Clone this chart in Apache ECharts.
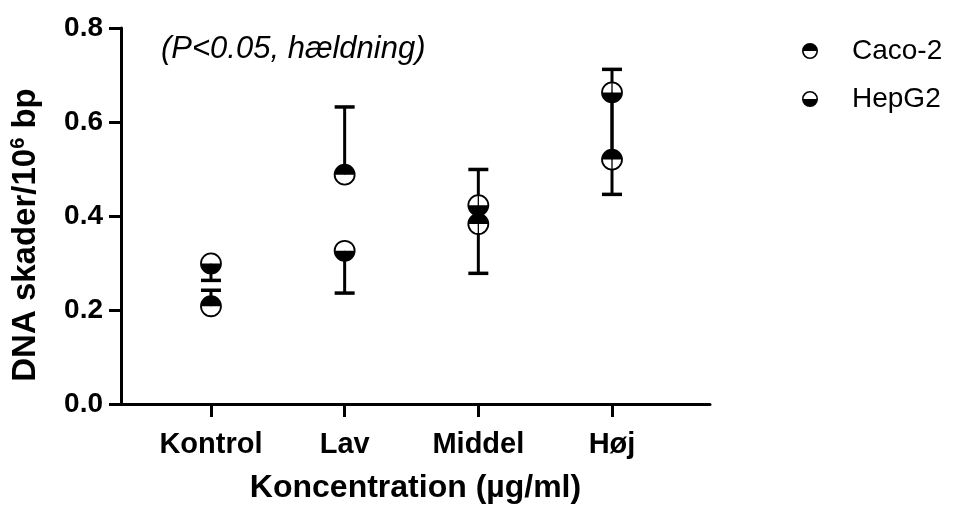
<!DOCTYPE html>
<html>
<head>
<meta charset="utf-8">
<script src="https://cdn.jsdelivr.net/npm/echarts@6/dist/echarts.min.js"></script>
<style>
html,body{margin:0;padding:0;background:#fff;}
#chart{width:956px;height:509px;}
</style>
</head>
<body>
<div id="chart"></div>
<script>
const categories = ['Kontrol', 'Lav', 'Middel', 'Høj'];
const cacoMean = [0.208, 0.488, 0.383, 0.520];
const cacoUpper = [0.242, 0.632, 0.499, 0.712];
const hepMean = [0.299, 0.326, 0.423, 0.663];
const hepLower = [0.263, 0.236, 0.278, 0.446];
const yTickLabels = ['0.0', '0.2', '0.4', '0.6', '0.8'];

const FONT = '"Liberation Sans", Arial, Helvetica, sans-serif';
const cacoData = categories.map((c, i) => [i, cacoMean[i], cacoUpper[i]]);
const hepData = categories.map((c, i) => [i, hepMean[i], hepLower[i]]);

function errRender(width, withCap) {
  return function (params, api) {
    const p = api.coord([api.value(0), api.value(1)]);
    const e = api.coord([api.value(0), api.value(2)]);
    const children = [{
      type: 'line',
      shape: { x1: p[0], y1: p[1], x2: e[0], y2: e[1] },
      style: { stroke: '#000', lineWidth: width }
    }];
    if (withCap) {
      children.push({
        type: 'line',
        shape: { x1: e[0] - 10, y1: e[1], x2: e[0] + 10, y2: e[1] },
        style: { stroke: '#000', lineWidth: 3.5 }
      });
    }
    return { type: 'group', children: children };
  };
}

function markerRender(topFilled) {
  return function (params, api) {
    const p = api.coord([api.value(0), api.value(1)]);
    return {
      type: 'group',
      children: [
        { type: 'circle', shape: { cx: p[0], cy: p[1], r: 10 },
          style: { fill: '#fff', stroke: '#000', lineWidth: 1.8 } },
        { type: 'sector', shape: { cx: p[0], cy: p[1], r0: 0, r: 10,
            startAngle: topFilled ? Math.PI : 0, endAngle: topFilled ? 2 * Math.PI : Math.PI, clockwise: true },
          style: { fill: '#000' } }
      ]
    };
  };
}

const iconTop = 'path://M0 10A10 10 0 0 1 20 10Z M0 10A10 10 0 0 0 20 10L18 10A8 8 0 0 1 2 10Z';
const iconBottom = 'path://M0 10A10 10 0 0 0 20 10Z M0 10A10 10 0 0 1 20 10L18 10A8 8 0 0 0 2 10Z';

const chart = echarts.init(document.getElementById('chart'), null, { renderer: 'canvas' });
chart.setOption({
  animation: false,
  backgroundColor: '#fff',
  textStyle: { fontFamily: FONT, color: '#000' },
  title: {
    text: '(P<0.05, hældning)',
    left: 156, top: 29,
    textStyle: { fontFamily: FONT, fontSize: 31, fontStyle: 'italic', fontWeight: 'normal', color: '#000' }
  },
  legend: {
    orient: 'vertical',
    left: 797, top: 32,
    itemWidth: 16, itemHeight: 16, itemGap: 20,
    symbolKeepAspect: true,
    itemStyle: { borderWidth: 0 },
    textStyle: { fontFamily: FONT, fontSize: 28, color: '#000', padding: [0, 0, 0, 29] },
    data: [
      { name: 'Caco-2', icon: iconTop },
      { name: 'HepG2', icon: iconBottom }
    ]
  },
  grid: { left: 121, right: 246, top: 28, bottom: 102, containLabel: false },
  xAxis: {
    type: 'value',
    min: -0.673, max: 3.733,
    splitLine: { show: false },
    axisLine: { show: true, onZero: false, lineStyle: { color: '#000', width: 3 } },
    axisTick: { show: true, customValues: [0, 1, 2, 3], length: 13, lineStyle: { color: '#000', width: 3 } },
    axisLabel: {
      customValues: [0, 1, 2, 3],
      formatter: v => categories[Math.round(v)],
      fontFamily: FONT, fontSize: 29, fontWeight: 'bold', color: '#000', margin: 26
    },
    name: 'Koncentration (µg/ml)',
    nameLocation: 'middle', nameGap: 68,
    nameTextStyle: { fontFamily: FONT, fontSize: 32, fontWeight: 'bold', color: '#000' }
  },
  yAxis: {
    type: 'value',
    min: 0, max: 0.8, interval: 0.2,
    splitLine: { show: false },
    axisLine: { show: true, onZero: false, lineStyle: { color: '#000', width: 3 } },
    axisTick: { show: true, length: 12, lineStyle: { color: '#000', width: 3 } },
    axisLabel: {
      formatter: v => yTickLabels[Math.round(v / 0.2)],
      fontFamily: FONT, fontSize: 28, fontWeight: 'bold', color: '#000', margin: 18
    },
    name: 'DNA skader/10{sup|6} bp',
    nameLocation: 'middle', nameGap: 78, nameRotate: 90,
    nameTextStyle: {
      fontFamily: FONT, fontSize: 33, fontWeight: 'bold', color: '#000',
      padding: [0, 38, 0, 0],
      rich: { sup: { fontFamily: FONT, fontSize: 20, fontWeight: 'bold', color: '#000', verticalAlign: 'top', padding: [0, 0, 15, 0] } }
    }
  },
  series: [
    { name: 'errCaco', type: 'custom', z: 2, renderItem: errRender(3, true), data: cacoData, itemStyle: { color: '#000' } },
    { name: 'errHep', type: 'custom', z: 2, renderItem: errRender(3, true), data: hepData, itemStyle: { color: '#000' } },
    { name: 'Caco-2', type: 'custom', z: 3, renderItem: markerRender(true), data: cacoData, itemStyle: { color: '#000' } },
    { name: 'HepG2', type: 'custom', z: 3, renderItem: markerRender(false), data: hepData, itemStyle: { color: '#000' } },
    { name: 'thinCaco', type: 'custom', z: 4, renderItem: errRender(1.3, false), data: cacoData, itemStyle: { color: '#000' } },
    { name: 'thinHep', type: 'custom', z: 4, renderItem: errRender(1.3, false), data: hepData, itemStyle: { color: '#000' } }
  ]
});
</script>
</body>
</html>
